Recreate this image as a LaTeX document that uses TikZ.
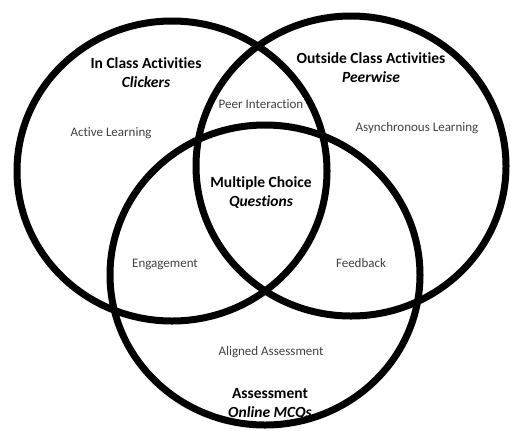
\documentclass[tikz,border=0pt]{standalone}
\usepackage{fontspec}
\setmainfont{Carlito}[Ligatures=NoCommon]
\usepackage{tikz}
\tikzset{
    vennring/.style={draw=black, line width=7bp, x radius=155, y radius=150},
    areatitle/.style={font=\fontsize{15.5bp}{19bp}\selectfont\bfseries, align=center, inner sep=0pt},
    areanote/.style={font=\fontsize{13bp}{15bp}\selectfont, text=black!75, inner sep=1bp}
}
\begin{document}
\begin{tikzpicture}[x=1bp, y=-1bp]
    \useasboundingbox (0,0) rectangle (510,430);
    \draw[vennring] (172,171) ellipse [];
    \draw[vennring] (351,166) ellipse [];
    \draw[vennring] (265,275) ellipse [];
    \node[areatitle] (inclass) at (146,73) {In Class Activities\\ \textit{Clickers}};
    \node[areatitle] (outside) at (371,68) {Outside Class Activities\\ \textit{Peerwise}};
    \node[areatitle] (mcq) at (261,193) {Multiple Choice\\ \textit{Questions}};
    \node[areatitle] (assess) at (270,404) {Assessment\\ \textit{Online MCQs}};
    \node[areanote] (active) at (111,133) {Active Learning};
    \node[areanote, fill=white] (peer) at (261,104) {Peer Interaction};
    \node[areanote] (async) at (417,128) {Asynchronous Learning};
    \node[areanote] (engage) at (165,264) {Engagement};
    \node[areanote] (feedback) at (361,263) {Feedback};
    \node[areanote] (aligned) at (271,352) {Aligned Assessment};
\end{tikzpicture}
\end{document}
